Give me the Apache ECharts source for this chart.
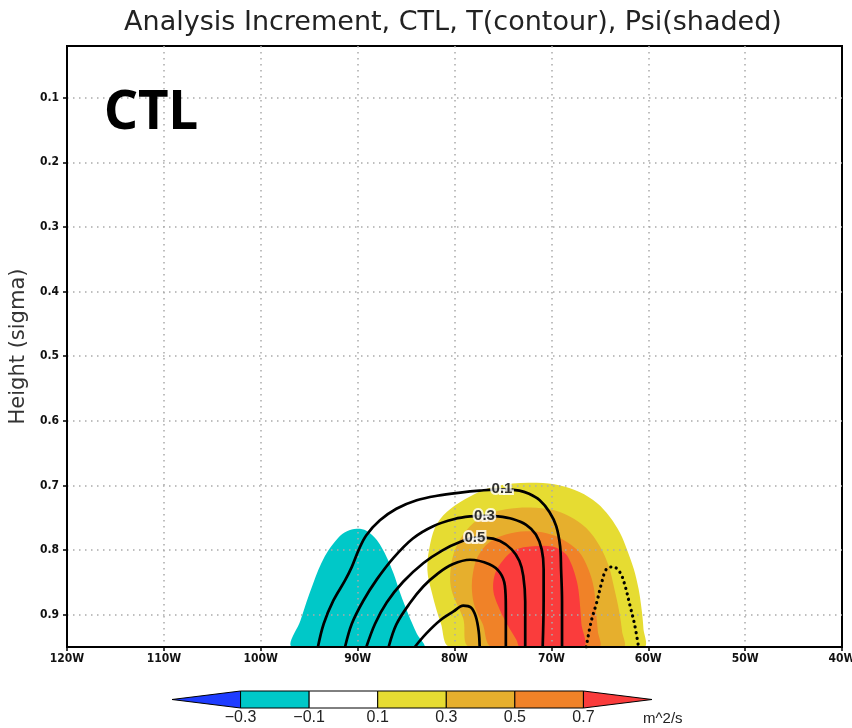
<!DOCTYPE html>
<html>
<head>
<meta charset="utf-8">
<title>Analysis Increment, CTL</title>
<script src="https://cdn.jsdelivr.net/npm/echarts@6/dist/echarts.min.js"></script>
<style>
  html, body { margin: 0; padding: 0; background: #fff; }
  #chart { width: 852px; height: 728px; }
</style>
</head>
<body>
<div id="chart"></div>
<script>
// ---- axes ----
const lonMin = -120, lonMax = -40, lonStep = 10;
const sigmaTop = 0.02, sigmaBottom = 0.95;
const sigmaTicks = [0.1, 0.2, 0.3, 0.4, 0.5, 0.6, 0.7, 0.8, 0.9];

// ---- Psi shading: level boundaries and fill colours ----
const psiLevels = [-0.3, -0.1, 0.1, 0.3, 0.5, 0.7];
const psiColors = ['#1e3cff', '#00c8c8', '#ffffff', '#e6dc32', '#e6af2d', '#f08228', '#fa3c3c'];
const psiUnit = 'm^2/s';

// Shaded areas, outlines as [longitude, sigma]
const psiBelowNeg01 = [
  [-96.7, 0.95], [-95.9, 0.909], [-94.6, 0.852], [-93.4, 0.810], [-92.0, 0.781],
  [-91.1, 0.771], [-90.1, 0.767], [-89.1, 0.770], [-88.0, 0.785], [-87.0, 0.811],
  [-86.3, 0.836], [-85.6, 0.867], [-84.8, 0.898], [-83.9, 0.929], [-83.2, 0.95]
];
const psiAbove01 = [
  [-80.4, 0.95], [-81.4, 0.914], [-82.3, 0.868], [-82.8, 0.831], [-82.5, 0.790],
  [-81.8, 0.759], [-80.4, 0.736], [-78.4, 0.717], [-76.4, 0.704], [-74.0, 0.697],
  [-71.5, 0.696], [-69.1, 0.700], [-67.1, 0.710], [-65.3, 0.727], [-64.0, 0.748],
  [-62.9, 0.774], [-62.2, 0.799], [-61.5, 0.829], [-61.0, 0.860], [-60.7, 0.890],
  [-60.5, 0.921], [-60.5, 0.95]
];
const psiAbove03 = [
  [-78.4, 0.95], [-79.1, 0.906], [-80.3, 0.862], [-80.4, 0.829], [-79.8, 0.794],
  [-78.4, 0.763], [-76.7, 0.746], [-74.7, 0.737], [-72.2, 0.734], [-69.8, 0.738],
  [-68.1, 0.748], [-66.4, 0.766], [-65.0, 0.794], [-64.1, 0.824], [-63.5, 0.860],
  [-63.0, 0.895], [-62.7, 0.926], [-62.6, 0.95]
];
const psiAbove05 = [
  [-76.1, 0.95], [-77.1, 0.914], [-77.9, 0.888], [-78.2, 0.862], [-78.1, 0.836],
  [-77.6, 0.810], [-76.4, 0.788], [-74.7, 0.776], [-72.6, 0.771], [-70.5, 0.774],
  [-68.8, 0.784], [-67.2, 0.802], [-66.2, 0.829], [-65.6, 0.860], [-65.4, 0.895],
  [-65.2, 0.926], [-65.1, 0.95]
];
const psiAbove07 = [
  [-73.2, 0.95], [-73.6, 0.939], [-74.6, 0.914], [-75.5, 0.886], [-76.0, 0.862],
  [-75.8, 0.836], [-75.0, 0.816], [-73.8, 0.800], [-71.9, 0.794], [-69.8, 0.795],
  [-68.6, 0.805], [-68.1, 0.816], [-67.6, 0.836], [-67.2, 0.862], [-66.9, 0.914],
  [-66.7, 0.95]
];

// ---- T contours, as [longitude, sigma] ----
const tContour01 = [
  [-94.1, 0.95], [-93.5, 0.914], [-92.5, 0.878], [-91.3, 0.847], [-90.6, 0.826],
  [-89.9, 0.800], [-89.1, 0.777], [-87.7, 0.754], [-86.0, 0.736], [-83.9, 0.723],
  [-81.8, 0.716], [-79.4, 0.711], [-77.4, 0.708], [-75.1, 0.706], [-73.3, 0.708],
  [-72.3, 0.713], [-71.2, 0.723], [-70.2, 0.741], [-69.5, 0.763], [-69.1, 0.794],
  [-69.0, 0.829], [-68.9, 0.880], [-68.9, 0.95]
];
const tContour03 = [
  [-91.3, 0.95], [-90.6, 0.914], [-89.4, 0.878], [-88.0, 0.845], [-86.3, 0.812],
  [-84.3, 0.782], [-82.2, 0.763], [-80.0, 0.752], [-78.4, 0.748], [-76.9, 0.747],
  [-75.5, 0.748], [-74.0, 0.752], [-72.6, 0.761], [-71.6, 0.776], [-71.0, 0.799],
  [-70.8, 0.829], [-70.8, 0.880], [-70.9, 0.95]
];
const tContour05 = [
  [-89.1, 0.95], [-88.2, 0.914], [-87.0, 0.881], [-85.3, 0.849], [-83.2, 0.820],
  [-81.2, 0.800], [-79.5, 0.788], [-77.9, 0.781], [-76.7, 0.781], [-75.3, 0.786],
  [-74.1, 0.799], [-73.3, 0.817], [-72.9, 0.840], [-72.7, 0.880], [-72.7, 0.95]
];
const tContour07 = [
  [-86.8, 0.95], [-86.0, 0.915], [-84.6, 0.882], [-83.2, 0.856], [-81.7, 0.836],
  [-80.2, 0.822], [-78.4, 0.815], [-76.4, 0.822], [-75.3, 0.835], [-74.8, 0.855],
  [-74.7, 0.890], [-74.7, 0.95]
];
const tContour09 = [
  [-84.1, 0.95], [-82.9, 0.929], [-81.5, 0.909], [-80.1, 0.895], [-79.1, 0.886],
  [-78.3, 0.889], [-77.8, 0.903], [-77.5, 0.926], [-77.4, 0.95]
];
const tContourNeg01 = [
  [-66.4, 0.95], [-65.9, 0.911], [-65.3, 0.880], [-64.8, 0.850], [-64.3, 0.829],
  [-63.6, 0.826], [-62.9, 0.835], [-62.4, 0.855], [-61.9, 0.885], [-61.4, 0.916],
  [-61.0, 0.95]
];
// contour labels: [longitude, sigma, level]
const tContourLabels = [
  [-75.1, 0.706, '0.1'],
  [-76.9, 0.747, '0.3'],
  [-77.9, 0.781, '0.5']
];

// ---- drawing helpers ----
const narrowFont = "'Liberation Sans Narrow', 'DejaVu Sans Condensed', 'Liberation Sans', sans-serif";

function fillSeries(name, outline, color) {
  return {
    name: name,
    type: 'custom',
    xAxisIndex: 0,
    yAxisIndex: 0,
    z: 1,
    clip: true,
    silent: true,
    data: outline,
    encode: { x: 0, y: 1 },
    renderItem: function (params, api) {
      if (params.dataIndex !== 0) return null;
      const points = outline.map(function (p) { return api.coord(p); });
      return {
        type: 'polygon',
        shape: { points: points, smooth: 0.35 },
        style: { fill: color }
      };
    }
  };
}

function contourSeries(name, points, dotted) {
  return {
    name: name,
    type: 'line',
    xAxisIndex: 0,
    yAxisIndex: 0,
    z: 3,
    silent: true,
    smooth: 0.35,
    symbol: 'none',
    data: points,
    lineStyle: dotted
      ? { color: '#000', width: 3.2, type: [0.1, 5.6], cap: 'round' }
      : { color: '#000', width: 2.7 }
  };
}

// colour bar bins: [low, high, colour index]; the two ends are arrow heads
const barLow = psiLevels[0] - 0.2, barHigh = psiLevels[psiLevels.length - 1] + 0.2;
const barBins = psiColors.map(function (c, i) {
  const lo = i === 0 ? barLow : psiLevels[i - 1];
  const hi = i === psiColors.length - 1 ? barHigh : psiLevels[i];
  return [lo, hi, i];
});

const gridDots = { color: '#aaa', width: 1.5, type: [1.5, 4.5] };

const chart = echarts.init(document.getElementById('chart'), null, { renderer: 'canvas' });

chart.setOption({
  animation: false,
  backgroundColor: '#fff',
  grid: [
    {
      left: 67, right: 10, top: 46, bottom: 81, containLabel: false, outerBoundsMode: 'none',
      show: true, borderColor: '#000', borderWidth: 2, backgroundColor: 'transparent'
    },
    { left: 172, width: 480, top: 691, height: 17, containLabel: false, outerBoundsMode: 'none' }
  ],
  xAxis: [
    {
      type: 'value', gridIndex: 0, min: lonMin, max: lonMax, interval: lonStep, z: 2,
      axisLine: { show: true, onZero: false, lineStyle: { color: '#000', width: 2 } },
      axisTick: { show: true, length: 4, lineStyle: { color: '#000', width: 1.5 } },
      axisLabel: {
        formatter: function (v) { return Math.abs(v) + 'W'; },
        fontFamily: narrowFont, fontWeight: 'bold', fontSize: 12, color: '#111', margin: 6
      },
      splitLine: { show: true, showMinLine: false, showMaxLine: false, lineStyle: gridDots }
    },
    {
      type: 'value', gridIndex: 1, min: barLow, max: barHigh,
      axisLine: { show: false }, axisTick: { show: false }, splitLine: { show: false },
      axisLabel: {
        customValues: psiLevels,
        formatter: function (v) { return v.toFixed(1).replace('-', '\u2212'); },
        fontFamily: "'Liberation Sans', Arial, sans-serif", fontSize: 16, color: '#222', margin: 2
      }
    }
  ],
  yAxis: [
    {
      type: 'value', gridIndex: 0, inverse: true, min: sigmaTop, max: sigmaBottom, z: 2,
      name: 'Height (sigma)', nameLocation: 'middle', nameRotate: 90, nameGap: 33,
      nameTextStyle: { fontFamily: "'DejaVu Sans', sans-serif", fontSize: 21, color: '#333' },
      axisLine: { show: true, onZero: false, lineStyle: { color: '#000', width: 2 } },
      axisTick: { show: true, length: 4, customValues: sigmaTicks, lineStyle: { color: '#000', width: 1.5 } },
      axisLabel: {
        customValues: sigmaTicks,
        formatter: function (v) { return v.toFixed(1); },
        fontFamily: narrowFont, fontWeight: 'bold', fontSize: 12, color: '#111', margin: 8
      },
      splitLine: { show: true, lineStyle: gridDots }
    },
    { type: 'value', gridIndex: 1, min: 0, max: 1, show: false }
  ],
  graphic: [
    {
      type: 'text', x: 453, y: 9, z: 10,
      style: {
        text: 'Analysis Increment, CTL, T(contour), Psi(shaded)',
        font: "27px 'DejaVu Sans', sans-serif", fill: '#222',
        textAlign: 'center', textVerticalAlign: 'top'
      }
    },
    {
      type: 'text', x: 104, y: 87, z: 10,
      style: {
        text: 'CTL', font: "bold 53px 'Noto Sans', 'Open Sans', sans-serif", fill: '#000',
        textAlign: 'left', textVerticalAlign: 'top'
      }
    },
    {
      type: 'text', x: 643, y: 711, z: 10,
      style: {
        text: psiUnit, font: "15px 'Liberation Sans', Arial, sans-serif", fill: '#222',
        textAlign: 'left', textVerticalAlign: 'top'
      }
    }
  ],
  series: [
    fillSeries('psi<-0.1', psiBelowNeg01, psiColors[1]),
    fillSeries('psi>0.1', psiAbove01, psiColors[3]),
    fillSeries('psi>0.3', psiAbove03, psiColors[4]),
    fillSeries('psi>0.5', psiAbove05, psiColors[5]),
    fillSeries('psi>0.7', psiAbove07, psiColors[6]),
    contourSeries('T 0.1', tContour01, false),
    contourSeries('T 0.3', tContour03, false),
    contourSeries('T 0.5', tContour05, false),
    contourSeries('T 0.7', tContour07, false),
    contourSeries('T 0.9', tContour09, false),
    contourSeries('T -0.1', tContourNeg01, true),
    {
      name: 'T labels',
      type: 'scatter',
      xAxisIndex: 0, yAxisIndex: 0, z: 4, silent: true,
      symbolSize: 1,
      itemStyle: { color: 'transparent' },
      data: tContourLabels,
      label: {
        show: true, position: 'inside',
        formatter: function (p) { return p.value[2]; },
        fontFamily: "'Liberation Sans', Arial, sans-serif", fontWeight: 'bold', fontSize: 15,
        color: '#000', textBorderColor: '#fff', textBorderWidth: 4
      }
    },
    {
      name: 'colour bar',
      type: 'custom',
      xAxisIndex: 1, yAxisIndex: 1, z: 2, silent: true,
      data: barBins,
      encode: { x: [0, 1] },
      renderItem: function (params, api) {
        const lo = api.value(0), hi = api.value(1), idx = api.value(2);
        const a = api.coord([lo, 1]), b = api.coord([hi, 0]);
        const midY = (a[1] + b[1]) / 2;
        const style = { fill: psiColors[idx], stroke: '#000', lineWidth: 1 };
        if (idx === 0) {
          return { type: 'polygon', shape: { points: [[a[0], midY], [b[0], a[1]], [b[0], b[1]]] }, style: style };
        }
        if (idx === psiColors.length - 1) {
          return { type: 'polygon', shape: { points: [[a[0], a[1]], [b[0], midY], [a[0], b[1]]] }, style: style };
        }
        return { type: 'rect', shape: { x: a[0], y: a[1], width: b[0] - a[0], height: b[1] - a[1] }, style: style };
      }
    }
  ]
});
</script>
</body>
</html>
